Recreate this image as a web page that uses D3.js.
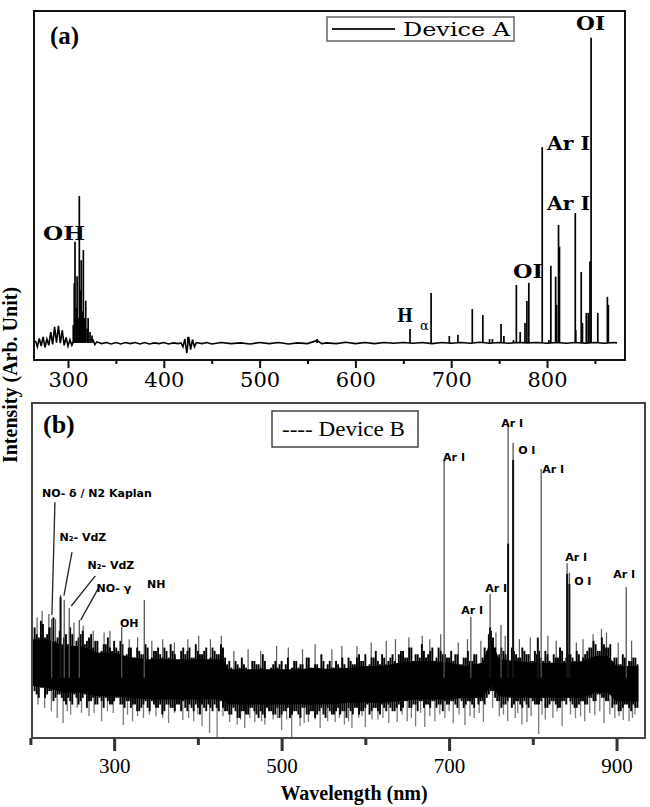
<!DOCTYPE html>
<html><head><meta charset="utf-8">
<script src="https://cdn.jsdelivr.net/npm/d3@7"></script>
<style>body{margin:0;background:#fff}</style>
</head><body>
<svg id="c" width="650" height="807"></svg>
<script>
// ---------- Panel (a) data : Device A ----------
const baseAWl = [266,268,270,272,274,276,278,280,282,284,286,288,290,292,294,296,298,300,302,304,306,
  326,328,330,
  335,340,345,350,355,360,365,370,375,380,385,390,395,400,405,410,415,
  418,420,422,424,426,428,430,432,434,
  440,445,450,
  460,470,480,490,500,510,520,530,540,550,
  560,565,570,
  580,590,600,610,620,630,640,650,660,670,680,690,700,710,720,730,740,750,760,770,780,790,800,810,820,830,840,850,860,870,
  873];
const baseAVal = [5.5,3.8,6.2,4.0,6.6,3.6,6.0,4.2,8.0,4.5,9.5,5.0,9.8,4.8,8.5,4.2,6.5,4.0,5.8,4.2,5.5,
  5.8,4.4,5.2,
  4.7,5.0,4.6,5.0,4.6,5.0,4.7,5.0,4.6,5.0,4.6,4.9,4.7,5.0,4.6,4.9,4.7,
  4.9,3.8,6.0,2.0,6.6,3.0,5.8,3.8,5.0,
  4.7,5.0,4.6,
  5.0,4.7,4.9,4.6,5.0,4.7,5.0,4.6,4.9,4.7,
  5.6,4.7,4.9,
  4.7,5.1,4.7,5.0,4.7,5.0,4.8,5.0,4.8,5.0,4.7,5.0,4.8,5.0,4.8,5.1,4.8,5.0,4.8,5.0,4.9,5.0,4.8,5.0,4.8,5.0,4.8,5.0,4.8,5.0,
  4.9];
const peaksAWl = [305.5,306.5,307.3,308.5,309.5,310.5,311.8,312.8,313.8,315,316,317,318.5,320,321,323,325,
  425,560,
  657,679,698,707,722,733,740,743,752,755,
  765,768,772,777,779,781,795,802,804,809,
  810,812,813,829.5,830,835.7,837,841,843,844.8,
  846,853,863,864];
const peaksAVal = [10,22,33.9,15,24,12,47,20,28.6,14,31.5,12,17,9,12,8,7,
  6.6,6.0,
  8.9,19.2,6.9,7.2,14.6,12.9,6.0,6.0,10.3,6.9,
  5.7,21.5,8.0,10.6,16.9,22.1,61.0,5.7,27.0,23.9,
  15.8,38.7,32.5,42.1,8.6,25.2,10.6,13.5,13.5,28.2,
  92.3,13.5,18.1,15.8];
const ticksAMajor = [300,400,500,600,700,800];
const ticksAMinor = [350,450,550,650,750,850];

// ---------- Panel (b) data : Device B ----------
const coreWl  = [203,220,240,260,280,300,320,340,360,380,400,420,430,436,460,480,500,520,540,560,580,600,620,640,660,680,700,720,740,750,760,780,800,820,840,860,875,890,900,926];
const coreTop = [29.5,29.5,27.5,27.5,25.5,25.5,24,23.5,23.5,23.5,23.5,23.5,23.5,20.5,20.5,20.5,20.5,20.5,21,20.5,21,21.5,21.5,22.5,23,23,22.5,21.5,22.5,29.5,23.5,23,22.5,22.5,22.5,23,24.5,24.5,21.5,21.5];
const coreBot = [15.5,15,13.5,13.5,12.5,12.5,12,11.5,11.5,11.5,11.5,11.5,11.5,10,10,10,10,10,10,10,10.5,10.5,10.5,11,11.5,11.5,11.5,12,12,15.5,12.5,12,12,12,12,12,13.5,13.5,11,11];
const bandWl = [205,210,215,220,225,230,235,240,245,250,255,260,265,270,275,280,285,290,295,300,
  305,310,315,320,325,330,335,340,345,350,355,360,365,370,375,380,385,390,395,400,
  405,410,415,420,425,430,435,440,445,450,455,460,465,470,475,480,485,490,495,500,
  505,510,515,520,525,530,535,540,545,550,555,560,565,570,575,580,585,590,595,600,
  605,610,615,620,625,630,635,640,645,650,655,660,665,670,675,680,685,690,695,700,
  705,710,715,720,725,730,735,740,745,750,755,760,765,770,775,780,785,790,795,800,
  805,810,815,820,825,830,835,840,845,850,855,860,865,870,875,880,885,890,895,900,
  905,910,915,920,925];
const bandTop = [33,30,34,31,33,29,32,30,28,31,29,31,28,30,27,29,26,28,27,29,
  26,28,25,27,24,26,25,27,24,26,25,27,24,26,23,26,25,27,24,26,
  25,27,24,26,25,27,22,21,23,21,22,20,23,22,21,23,20,22,21,23,
  22,20,23,21,22,24,21,22,20,23,22,21,23,21,22,24,22,24,23,25,
  22,24,23,25,22,24,23,25,26,24,27,25,24,26,25,27,24,26,25,24,
  23,25,22,24,23,25,22,24,26,32,27,25,26,24,27,25,24,26,25,23,
  25,24,26,23,25,24,26,24,25,23,25,24,26,27,28,26,28,27,23,24,
  22,24,23,24,22];
const bandBot = [14,12,15,13,14,12,13,11,12,10,12,11,13,11,12,10,11,12,10,11,
  12,10,11,9,10,8,10,9,11,9,10,8,10,9,10,8,9,10,8,9,
  10,8,9,10,8,9,8,7,8,6,8,7,9,7,8,6,8,7,9,7,
  8,6,8,7,9,7,8,6,8,7,9,7,8,7,8,9,7,9,8,9,
  7,9,8,10,8,9,8,10,9,11,9,10,11,9,10,11,9,10,11,10,
  11,9,11,10,11,9,10,11,12,14,12,11,10,11,9,11,10,11,9,11,
  10,11,9,10,11,9,11,10,11,9,10,11,10,12,11,13,12,11,9,10,
  8,10,9,10,9];
const band2Wl = [207.5,212.5,217.5,222.5,227.5,232.5,237.5,242.5,247.5,252.5,257.5,262.5,267.5,272.5,
  277.5,282.5,287.5,292.5,297.5,302.5,307.5,312.5,317.5,
  322.5,327.5,332.5,337.5,342.5,347.5,352.5,357.5,362.5,367.5,372.5,377.5,382.5,387.5,392.5,397.5,402.5,407.5,412.5,417.5,422.5,427.5,432.5,
  437.5,442.5,447.5,452.5,457.5,462.5,467.5,472.5,477.5,482.5,487.5,492.5,497.5,502.5,507.5,512.5,517.5,522.5,527.5,532.5,537.5,542.5,547.5,552.5,557.5,562.5,567.5,572.5,577.5,582.5,
  587.5,592.5,597.5,602.5,607.5,612.5,617.5,622.5,627.5,632.5,637.5,642.5,
  647.5,652.5,657.5,662.5,667.5,672.5,677.5,682.5,687.5,692.5,697.5,702.5,
  707.5,712.5,717.5,722.5,727.5,732.5,737.5,742.5,
  747.5,752.5,
  757.5,762.5,767.5,772.5,777.5,782.5,787.5,792.5,797.5,802.5,
  807.5,812.5,817.5,822.5,827.5,832.5,837.5,842.5,847.5,852.5,857.5,862.5,867.5,
  872.5,877.5,882.5,887.5,892.5,
  897.5,902.5,907.5,912.5,917.5,922.5];
const band2Top = [31,35,30,33,36,30,
  28,31,33,27,30,32,29,31,
  29,25,28,30,26,27,29,24,27,
  24,27,25,28,23,26,27,24,26,28,25,23,27,26,24,28,25,26,23,27,25,28,24,
  23,20,22,24,21,19,23,22,25,20,21,23,22,20,24,21,23,22,19,24,21,22,25,20,23,21,22,24,20,23,
  22,25,23,21,24,26,22,24,23,25,22,26,
  24,27,23,25,28,24,26,23,27,25,24,26,
  25,22,24,26,23,25,22,27,
  31,30,
  24,27,25,23,26,24,27,25,23,26,
  26,23,25,22,24,27,23,25,24,26,22,25,27,
  29,26,30,27,28,
  24,22,25,21,23,24];
const band2Bot = [13,15,12,14,11,13,
  12,10,11,13,10,12,9,11,
  10,12,9,11,10,12,10,9,11,
  10,8,9,11,8,10,9,7,10,9,8,10,11,8,9,10,7,9,10,8,9,11,8,
  7,9,6,8,7,9,8,6,7,9,8,7,6,8,9,7,8,6,9,7,8,7,9,6,8,7,9,8,6,8,
  9,7,8,10,8,9,7,9,10,8,9,8,
  11,9,10,8,11,10,9,11,10,8,10,11,
  10,12,9,11,10,12,11,10,
  13,14,
  11,9,10,12,10,11,9,10,12,10,
  10,12,9,11,10,9,11,12,10,9,11,10,12,
  11,13,12,11,13,
  10,8,9,10,8,9];
const spikeDownWl = [217,239,261,299,311,335,382,414,423,438,456,468,500,512,532,546,564,584,600,638,
  671,695,719,741,779,793,807,824,851,874,908,919,
  225,232,248,270,285,322,350,365,395,405,447,480,490,522,555,575,592,615,628,650,
  660,683,705,730,760,770,787,815,835,862,885,898,915,
  209,244,256,276,292,316,328,342,358,372,389,400,430,451,462,476,495,506,527,540,
  569,580,596,608,621,644,655,666,677,689,700,712,725,736,752,765,782,798,811,829,
  845,857,868,880,892,903,922];
const spikeDownVal = [9,4.5,7.5,7.5,3.9,6,5.4,1.5,0,4.8,3,4.8,2.4,0,4.8,3,4.8,3,3.3,4.8,
  3.3,6,3.9,4.8,6,4.8,1.2,6,6,6.9,5.4,6,
  8,6,7,6.5,5,5,6.5,4.5,5,3.5,4,4,5.5,3.5,5,4,6,5.5,4.5,5,
  3.5,5,4.5,6,6.5,5,4,5.5,3.5,5,4.5,6,5,
  10,8,9,7.5,8,7,6.5,7,6,7.5,6,7,6.5,5.5,6,5,6,5.5,4.5,5.5,
  6,5,6.5,5.5,6,7,6,7.5,6.5,7,8,7,6.5,7.5,9,7,7.5,6.5,7,8,
  7,6.5,7.5,8,7,6.5,7];
const spikeUpWl = [208,214,222,230,252,263,275,288,295,318,328,345,358,372,388,401,415,428,443,460,
  475,494,508,525,540,560,572,590,607,625,636,652,668,677,690,711,722,738,756,767,
  784,797,818,828,852,860,872,882,888,902,918];
const spikeUpVal = [36,38,37,35.5,34.5,33.5,32,31.5,32,29.5,30,29,29.5,28.5,29.5,30.5,29.5,30.5,26,26.5,
  26,27.5,27,26.5,28,26.5,27.5,27.5,28.5,29,29.5,30,30.5,29.5,31,28.5,29.5,29,31.5,30.5,
  29.5,30,30.5,29,28.5,29.5,31,32.5,31.5,28.5,29];
const peaksBWl = [225.4,236,240.4,246.4,258.4,309,336,694.1,726,749,762,770.5,776.5,806,810,841,843.7,911.6];
const peaksBVal = [35.5,42.7,41.2,38.8,35.2,33.1,41.2,83.0,36.1,43.0,33.7,94.0,88.1,29.6,80.3,52.2,49.3,45.1];
const darkBWl = [770.5,776.5,841,843.7,749,806,236];
const darkBVal = [58,83,49,46,33,30,42];
const ticksBMajor = [300,500,700,900];
const ticksBMinor = [200,400,600,800];

// ---------- annotations (data coordinates) ----------
const labelsA = [
  {t:"OH", wl:273.9, v:34.4, w:42},
  {t:"OI", wl:830.3, v:94.6, w:29},
  {t:"Ar I", wl:800, v:60.2, w:43},
  {t:"Ar I", wl:800, v:43.0, w:43},
  {t:"OI", wl:764.5, v:23.5, w:30}
];
const labelsB = [
  {t:"NO- δ / N2 Kaplan", wl:213.8, v:71.9},
  {t:"N₂- VdZ", wl:234.8, v:58.8},
  {t:"N₂- VdZ", wl:268.2, v:50.4},
  {t:"NO- γ", wl:279, v:43.6},
  {t:"NH", wl:339.2, v:44.8},
  {t:"OH", wl:307, v:33.1},
  {t:"Ar I", wl:692.9, v:82.7},
  {t:"Ar I", wl:762.2, v:92.8},
  {t:"O I", wl:782.5, v:84.8},
  {t:"Ar I", wl:811.2, v:79.1},
  {t:"Ar I", wl:838.7, v:52.8},
  {t:"O I", wl:849.4, v:45.7},
  {t:"Ar I", wl:896, v:47.8},
  {t:"Ar I", wl:743.1, v:43.6},
  {t:"Ar I", wl:714.4, v:37.0}
];
const leadersB = [
  [229.3,70.4,225.7,36.7],
  [249.7,55.5,240,42.5],
  [277.5,48.4,248.8,39.4],
  [281.4,44.8,260,35.2]
];

const svg = d3.select('#c');

// ================= Panel (a) =================
const xA = d3.scaleLinear().domain([264.5, 881.4]).range([34, 625]);
const yA = d3.scaleLinear().domain([0, 100]).range([360, 11]);
const gA = svg.append('g');

gA.append('rect').attr('x',34).attr('y',11).attr('width',591).attr('height',349)
  .attr('fill','none').attr('stroke','#111').attr('stroke-width',2);

gA.append('path').datum(d3.zip(baseAWl, baseAVal))
  .attr('d', d3.line().x(d=>xA(d[0])).y(d=>yA(d[1])))
  .attr('fill','none').attr('stroke','#000').attr('stroke-width',1.6);
gA.selectAll('line.pk').data(d3.zip(peaksAWl, peaksAVal)).join('line')
  .attr('x1',d=>xA(d[0])).attr('x2',d=>xA(d[0]))
  .attr('y1',yA(4.9)).attr('y2',d=>yA(d[1]))
  .attr('stroke','#000').attr('stroke-width',1.7);

const axA1 = gA.append('g').attr('transform','translate(0,360)')
  .call(d3.axisBottom(xA).tickValues(ticksAMinor).tickSize(4).tickFormat(''));
const axA2 = gA.append('g').attr('transform','translate(0,360)')
  .call(d3.axisBottom(xA).tickValues(ticksAMajor).tickSize(8).tickPadding(4).tickFormat(d3.format('d')));
[axA1, axA2].forEach(a=>{a.select('.domain').remove();
  a.selectAll('line').attr('stroke','#111').attr('stroke-width',2);});
axA2.selectAll('text').attr('font-family','DejaVu Serif').attr('font-size',21).attr('fill','#000');

labelsA.forEach(l=>{
  gA.append('text').attr('x',xA(l.wl)).attr('y',yA(l.v)).text(l.t)
    .attr('font-family','DejaVu Serif').attr('font-weight','bold').attr('font-size',18)
    .attr('textLength',l.w).attr('lengthAdjust','spacingAndGlyphs');
});
gA.append('text').attr('x',xA(643.4)).attr('y',yA(10.9)).text('H')
  .attr('font-family','DejaVu Serif').attr('font-weight','bold').attr('font-size',18)
  .attr('textLength',16).attr('lengthAdjust','spacingAndGlyphs');
gA.append('text').attr('x',xA(667.4)).attr('y',yA(8.6)).text('α')
  .attr('font-family','DejaVu Serif').attr('font-size',13);

gA.append('text').attr('x',50).attr('y',44).text('(a)')
  .attr('font-family','Liberation Serif').attr('font-weight','bold').attr('font-size',25);

gA.append('rect').attr('x',327).attr('y',17).attr('width',187).attr('height',24)
  .attr('fill','#fff').attr('stroke','#666').attr('stroke-width',1.5);
gA.append('line').attr('x1',332).attr('x2',395).attr('y1',29).attr('y2',29)
  .attr('stroke','#222').attr('stroke-width',2);
gA.append('text').attr('x',403).attr('y',36).text('Device A')
  .attr('font-family','DejaVu Serif').attr('font-size',19)
  .attr('textLength',107).attr('lengthAdjust','spacingAndGlyphs');

// ================= Panel (b) =================
const xB = d3.scaleLinear().domain([201.9, 934]).range([32, 645]);
const yB = d3.scaleLinear().domain([0, 100]).range([738, 403]);
const gB = svg.append('g');

const core = d3.zip(coreWl, coreTop, coreBot);
const coreMid = wl => { const i = d3.bisector(d=>d[0]).center(core, wl); return (core[i][1]+core[i][2])/2; };

gB.selectAll('line.sd').data(d3.zip(spikeDownWl, spikeDownVal)).join('line')
  .attr('x1',d=>xB(d[0])).attr('x2',d=>xB(d[0]))
  .attr('y1',d=>yB(coreMid(d[0]))).attr('y2',d=>yB(d[1]))
  .attr('stroke','#7a7a7a').attr('stroke-width',1.3);
gB.selectAll('line.su').data(d3.zip(spikeUpWl, spikeUpVal)).join('line')
  .attr('x1',d=>xB(d[0])).attr('x2',d=>xB(d[0]))
  .attr('y1',d=>yB(coreMid(d[0]))).attr('y2',d=>yB(d[1]))
  .attr('stroke','#5a5a5a').attr('stroke-width',1.2);
gB.append('line').attr('x1',xB(423)).attr('x2',xB(444)).attr('y1',yB(15.8)).attr('y2',yB(15.8))
  .attr('stroke','#888').attr('stroke-width',1);

gB.append('path').datum(core)
  .attr('d', d3.area().x(d=>xB(d[0])).y0(d=>yB(d[2])).y1(d=>yB(d[1])))
  .attr('fill','#000');
const sticks = d3.zip(bandWl, bandTop, bandBot).concat(d3.zip(band2Wl, band2Top, band2Bot));
gB.selectAll('line.ns').data(sticks).join('line')
  .attr('x1',d=>xB(d[0])).attr('x2',d=>xB(d[0]))
  .attr('y1',d=>yB(d[2])).attr('y2',d=>yB(d[1]))
  .attr('stroke','#000').attr('stroke-width',1.9);

gB.selectAll('line.pk').data(d3.zip(peaksBWl, peaksBVal)).join('line')
  .attr('x1',d=>xB(d[0])).attr('x2',d=>xB(d[0]))
  .attr('y1',yB(18)).attr('y2',d=>yB(d[1]))
  .attr('stroke','#555').attr('stroke-width',1.3);
gB.selectAll('line.dk').data(d3.zip(darkBWl, darkBVal)).join('line')
  .attr('x1',d=>xB(d[0])).attr('x2',d=>xB(d[0]))
  .attr('y1',yB(18)).attr('y2',d=>yB(d[1]))
  .attr('stroke','#111').attr('stroke-width',2);

leadersB.forEach(l=>{
  gB.append('line').attr('x1',xB(l[0])).attr('y1',yB(l[1])).attr('x2',xB(l[2])).attr('y2',yB(l[3]))
    .attr('stroke','#222').attr('stroke-width',1.3);
});
labelsB.forEach(l=>{
  gB.append('text').attr('x',xB(l.wl)).attr('y',yB(l.v)).text(l.t)
    .attr('font-family','DejaVu Sans').attr('font-weight','bold').attr('font-size',11);
});

gB.append('rect').attr('x',32).attr('y',403).attr('width',613).attr('height',335)
  .attr('fill','none').attr('stroke','#444').attr('stroke-width',2);

const axB1 = gB.append('g').attr('transform','translate(0,738)')
  .call(d3.axisBottom(xB).tickValues(ticksBMinor).tickSize(7).tickFormat(''));
const axB2 = gB.append('g').attr('transform','translate(0,738)')
  .call(d3.axisBottom(xB).tickValues(ticksBMajor).tickSize(13).tickPadding(7).tickFormat(d3.format('d')));
[axB1, axB2].forEach(a=>{a.select('.domain').remove();
  a.selectAll('line').attr('stroke','#333').attr('stroke-width',3);});
axB2.selectAll('text').attr('font-family','Liberation Serif').attr('font-size',21).attr('fill','#000');

gB.append('text').attr('x',43).attr('y',433).text('(b)')
  .attr('font-family','Liberation Serif').attr('font-weight','bold').attr('font-size',26);

gB.append('rect').attr('x',272).attr('y',411).attr('width',146).attr('height',36)
  .attr('fill','#fff').attr('stroke','#444').attr('stroke-width',1.5);
gB.append('text').attr('x',282).attr('y',436).text('---- Device B')
  .attr('font-family','Liberation Serif').attr('font-size',22)
  .attr('textLength',123).attr('lengthAdjust','spacingAndGlyphs');

// ================= axis titles =================
svg.append('text').attr('transform','translate(17,375) rotate(-90)')
  .attr('text-anchor','middle').text('Intensity (Arb. Unit)')
  .attr('font-family','Liberation Serif').attr('font-weight','bold').attr('font-size',20);
svg.append('text').attr('x',354).attr('y',800).attr('text-anchor','middle')
  .text('Wavelength (nm)')
  .attr('font-family','Liberation Serif').attr('font-weight','bold').attr('font-size',20);
</script>
</body></html>
